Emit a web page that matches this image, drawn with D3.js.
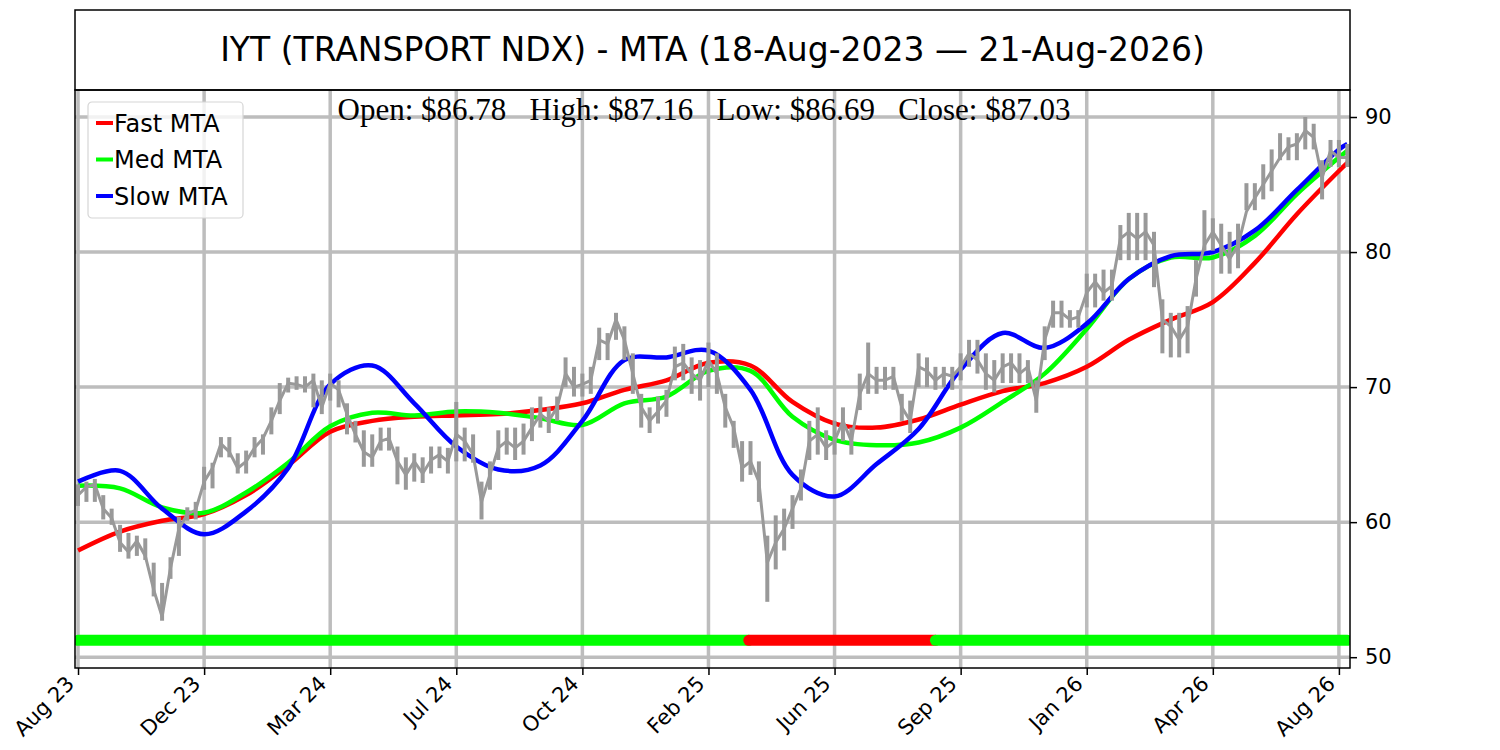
<!DOCTYPE html>
<html>
<head>
<meta charset="utf-8">
<script src="https://cdn.jsdelivr.net/npm/d3@7"></script>
<style>
  body { margin: 0; background: #fff; }
  svg { display: block; }
  .tick text { font-family: "DejaVu Sans", sans-serif; }
</style>
</head>
<body>
<div id="chart"></div>
<script>
// chart data (bar index based x axis, one bar per trading day)
const titleText = 'IYT (TRANSPORT NDX) - MTA (18-Aug-2023 \u2014 21-Aug-2026)';
const ohlcText = 'Open: $86.78   High: $87.16   Low: $86.69   Close: $87.03';

const tickIndex = [0, 75, 150, 225, 300, 375, 450, 525, 600, 675, 750];
const tickLabels = ['Aug 23', 'Dec 23', 'Mar 24', 'Jul 24', 'Oct 24', 'Feb 25',
                    'Jun 25', 'Sep 25', 'Jan 26', 'Apr 26', 'Aug 26'];
const yTicks = [50, 60, 70, 80, 90];

// price sampled every 5 bars: close, low, high
const priceIndex = d3.range(0, 756, 5);
const priceClose = [
  62.0, 62.6, 62.8, 61.0, 60.3, 58.5, 57.8, 58.6, 57.5, 55.0,
  53.0, 56.6, 59.5, 60.6, 60.9, 63.0, 64.0, 65.8, 65.2, 64.0,
  64.5, 65.5, 66.2, 67.5, 69.0, 70.3, 70.2, 70.0, 70.5, 68.5,
  70.3, 69.8, 68.0, 66.5, 65.2, 64.8, 66.0, 66.2, 64.5, 63.5,
  64.5, 63.6, 64.6, 65.0, 64.5, 66.5, 66.0, 65.0, 61.5, 63.5,
  65.5, 66.0, 65.5, 66.0, 67.0, 68.0, 67.5, 68.5, 71.0, 70.0,
  70.2, 70.5, 73.5, 73.2, 75.0, 73.5, 71.0, 68.5, 67.5, 68.2,
  69.0, 71.5, 71.8, 71.0, 70.5, 72.0, 71.0, 68.5, 67.0, 64.0,
  64.5, 63.0, 57.0, 58.5, 59.5, 61.0, 62.5, 66.0, 66.5, 65.5,
  66.0, 67.5, 66.0, 69.5, 71.0, 70.5, 70.5, 70.8, 68.5, 67.5,
  71.5, 71.2, 70.5, 71.0, 70.8, 71.5, 72.5, 72.0, 71.0, 70.5,
  71.5, 71.8, 71.0, 71.5, 69.0, 73.5, 75.5, 75.5, 75.0, 75.2,
  77.0, 77.8, 77.0, 77.5, 81.0, 81.5, 81.0, 81.5, 80.5, 75.0,
  74.5, 73.5, 74.5, 78.0, 80.5, 81.5, 80.5, 79.5, 80.5, 83.0,
  84.0, 85.0, 86.0, 87.0, 87.8, 88.0, 89.0, 88.5, 85.5, 87.5,
  87.0, 87.0
];
const priceLow = [
  61.2, 61.5, 61.5, 60.2, 59.8, 57.8, 57.3, 57.5, 57.2, 54.5,
  52.7, 55.8, 57.5, 60.1, 60.2, 62.4, 62.5, 64.8, 64.8, 63.6,
  63.6, 64.8, 65.0, 66.5, 68.0, 69.6, 69.8, 69.6, 68.5, 68.0,
  69.0, 68.5, 66.5, 65.9, 64.1, 64.1, 65.3, 65.3, 62.8, 62.4,
  63.0, 62.9, 63.6, 64.0, 63.6, 64.5, 64.5, 64.4, 60.2, 62.4,
  64.6, 65.0, 64.6, 65.0, 66.0, 67.0, 66.6, 67.5, 70.0, 69.3,
  69.3, 69.5, 72.0, 72.0, 73.5, 72.0, 69.5, 67.0, 66.6, 67.3,
  67.8, 70.5, 70.5, 69.5, 69.0, 70.0, 69.5, 67.0, 65.5, 63.0,
  63.5, 61.5, 54.1, 56.5, 57.9, 59.5, 61.6, 64.6, 65.0, 64.6,
  65.0, 66.0, 65.0, 68.3, 69.5, 69.5, 69.8, 69.8, 67.5, 66.6,
  70.0, 70.0, 69.8, 70.0, 69.8, 70.5, 71.5, 71.0, 69.8, 69.6,
  70.3, 70.3, 70.3, 70.3, 68.1, 72.0, 74.4, 74.4, 74.4, 74.4,
  75.9, 75.9, 76.4, 76.4, 79.4, 79.4, 79.4, 79.4, 77.4, 72.5,
  72.2, 72.2, 72.5, 76.7, 80.1, 80.1, 78.4, 78.4, 78.8, 83.1,
  83.1, 83.9, 84.5, 86.8, 86.8, 86.8, 87.6, 87.6, 83.9, 86.3,
  86.3, 86.3
];
const priceHigh = [
  62.8, 63.0, 63.2, 62.0, 61.0, 59.8, 59.2, 59.0, 58.8, 57.0,
  55.5, 57.4, 60.4, 61.1, 61.5, 64.1, 64.4, 66.3, 66.3, 65.1,
  65.3, 66.3, 66.5, 68.5, 70.3, 70.7, 70.8, 70.8, 71.0, 70.5,
  71.0, 70.5, 68.8, 67.5, 66.8, 66.5, 67.0, 67.0, 65.6, 64.8,
  65.1, 64.8, 65.6, 65.6, 65.5, 68.9, 67.0, 66.5, 63.0, 64.5,
  66.8, 67.0, 67.0, 67.3, 68.5, 69.3, 68.5, 69.3, 72.2, 71.5,
  71.0, 71.5, 74.4, 74.0, 75.5, 74.5, 72.5, 69.5, 68.5, 69.3,
  69.8, 73.0, 73.2, 72.2, 72.0, 73.3, 72.5, 69.5, 67.5, 66.0,
  66.0, 64.5, 59.0, 60.5, 61.0, 62.0, 63.9, 67.5, 68.5, 66.8,
  67.5, 68.5, 67.0, 71.0, 73.3, 71.5, 71.5, 71.5, 69.5, 69.0,
  72.5, 72.2, 71.5, 71.5, 71.5, 72.5, 73.5, 73.5, 72.5, 72.0,
  72.5, 72.5, 72.5, 72.0, 70.5, 74.5, 76.4, 76.4, 75.7, 75.7,
  78.4, 78.4, 78.7, 78.7, 82.0, 82.9, 82.9, 82.9, 81.5, 76.5,
  75.5, 75.5, 76.0, 79.4, 83.1, 82.5, 82.1, 81.5, 82.1, 85.1,
  85.1, 86.5, 87.6, 88.8, 88.5, 88.8, 90.0, 89.5, 86.8, 88.3,
  88.3, 88.0
];

// moving trend averages, sampled every 25 bars (last one at bar 755)
const mtaIndex = d3.range(0, 751, 25).concat([755]);
const fastMTA = [
  57.9, 59.3, 60.1, 60.6, 62.0, 64.2, 66.7, 67.5, 67.8, 67.9, 68.0,
  68.3, 68.8, 69.8, 70.5, 71.8, 71.6, 68.9, 67.3, 67.0, 67.6, 68.7,
  69.7, 70.3, 71.5, 73.5, 75.0, 76.3, 79.2, 82.8, 86.0, 86.6
];
const medMTA = [
  62.7, 62.5, 61.1, 60.7, 62.2, 64.4, 67.1, 68.1, 67.9, 68.2, 68.1,
  67.7, 67.2, 68.8, 69.3, 71.2, 71.2, 67.8, 66.1, 65.7, 65.9, 67.0,
  68.9, 71.0, 74.3, 78.0, 79.6, 79.6, 81.2, 84.3, 87.0, 87.5
];
const slowMTA = [
  63.0, 63.8, 61.0, 59.1, 60.8, 64.0, 70.2, 71.6, 68.8, 65.6, 63.9,
  64.2, 67.5, 72.0, 72.2, 72.7, 69.8, 63.5, 61.9, 64.3, 66.9, 71.3,
  74.0, 72.9, 74.7, 78.0, 79.7, 80.0, 81.6, 84.6, 87.6, 88.0
];

// trend signal strip along the bottom
const signalStart = [0, 399, 510];
const signalEnd = [399, 510, 755];
const signalState = ['up', 'down', 'up'];
const signalLevel = 51.25;

// sizes
const W = 1500, H = 750;
const margin = { left: 75, right: 1350, top: 90, bottom: 668 };

const svg = d3.select('#chart').append('svg')
  .attr('width', W).attr('height', H);

const x = d3.scaleLinear().domain([-1.8, 756.6]).range([margin.left, margin.right]);
const y = d3.scaleLinear().domain([49.2, 92.0]).range([margin.bottom, margin.top]);

svg.append('clipPath').attr('id', 'plotclip')
  .append('rect')
  .attr('x', margin.left).attr('y', margin.top)
  .attr('width', margin.right - margin.left).attr('height', margin.bottom - margin.top);

// grid
let grid = svg.append('g').attr('clip-path', 'url(#plotclip)');
grid.selectAll('.vgrid').data(tickIndex).enter().append('line')
  .attr('x1', d => x(d)).attr('x2', d => x(d))
  .attr('y1', margin.top).attr('y2', margin.bottom)
  .attr('stroke', '#bdbdbd').attr('stroke-width', 3.5);
grid.selectAll('.hgrid').data(yTicks).enter().append('line')
  .attr('x1', margin.left).attr('x2', margin.right)
  .attr('y1', d => y(d)).attr('y2', d => y(d))
  .attr('stroke', '#bdbdbd').attr('stroke-width', 3.5);

let plot = svg.append('g').attr('clip-path', 'url(#plotclip)');

// signal strip
let signalColor = { up: '#00ff00', down: '#ff0000' };
signalStart.forEach(function(s, k) {
  plot.append('line')
    .attr('x1', x(s)).attr('x2', x(signalEnd[k]))
    .attr('y1', y(signalLevel)).attr('y2', y(signalLevel))
    .attr('stroke', signalColor[signalState[k]])
    .attr('stroke-width', 11)
    .attr('stroke-linecap', 'round');
});

// MTA lines
let mtaLine = d3.line()
  .x((d, i) => x(mtaIndex[i]))
  .y(d => y(d))
  .curve(d3.curveCatmullRom.alpha(0.5));

let series = [
  { name: 'Fast MTA', values: fastMTA, color: '#ff0000' },
  { name: 'Med MTA', values: medMTA, color: '#00ff00' },
  { name: 'Slow MTA', values: slowMTA, color: '#0000ff' }
];

series.forEach(function(s) {
  plot.append('path')
    .attr('d', mtaLine(s.values))
    .attr('fill', 'none')
    .attr('stroke', s.color)
    .attr('stroke-width', 4.5)
    .attr('stroke-linejoin', 'round');
});

// price: low-high bars plus a close line
plot.selectAll('.hl').data(priceIndex).enter().append('line')
  .attr('class', 'hl')
  .attr('x1', d => x(d)).attr('x2', d => x(d))
  .attr('y1', (d, i) => y(priceLow[i]))
  .attr('y2', (d, i) => y(priceHigh[i]))
  .attr('stroke', '#999999')
  .attr('stroke-width', 4);

let priceLine = d3.line()
  .x((d, i) => x(priceIndex[i]))
  .y(d => y(d));

plot.append('path')
  .attr('d', priceLine(priceClose))
  .attr('fill', 'none')
  .attr('stroke', '#999999')
  .attr('stroke-width', 3);

// axes
let xAxis = d3.axisBottom(x)
  .tickValues(tickIndex)
  .tickFormat((d, i) => tickLabels[i])
  .tickSize(7).tickPadding(4);

let gx = svg.append('g')
  .attr('transform', 'translate(0,' + margin.bottom + ')')
  .call(xAxis);
gx.select('.domain').remove();
gx.selectAll('.tick line').attr('stroke', '#000').attr('stroke-width', 1.5);
gx.selectAll('.tick text')
  .attr('font-size', 21)
  .attr('fill', '#000')
  .attr('text-anchor', 'end')
  .attr('x', 0).attr('y', 0).attr('dy', 0)
  .attr('transform', 'translate(-3,17) rotate(-45)');

let yAxis = d3.axisRight(y)
  .tickValues(yTicks)
  .tickSize(7).tickPadding(8);

let gy = svg.append('g')
  .attr('transform', 'translate(' + margin.right + ',0)')
  .call(yAxis);
gy.select('.domain').remove();
gy.selectAll('.tick line').attr('stroke', '#000').attr('stroke-width', 1.5);
gy.selectAll('.tick text').attr('font-size', 21).attr('fill', '#000');

// frame
svg.append('rect')
  .attr('x', margin.left).attr('y', margin.top)
  .attr('width', margin.right - margin.left).attr('height', margin.bottom - margin.top)
  .attr('fill', 'none').attr('stroke', '#000').attr('stroke-width', 1.5);

// title box
svg.append('rect')
  .attr('x', margin.left).attr('y', 10)
  .attr('width', margin.right - margin.left).attr('height', margin.top - 10)
  .attr('fill', 'none').attr('stroke', '#000').attr('stroke-width', 1.5);

svg.append('text')
  .attr('x', (margin.left + margin.right) / 2).attr('y', 61)
  .attr('text-anchor', 'middle')
  .attr('font-family', '"DejaVu Sans", sans-serif')
  .attr('font-size', 33)
  .text(titleText);

svg.append('text')
  .attr('x', 704).attr('y', 120)
  .attr('text-anchor', 'middle')
  .attr('font-family', '"Liberation Serif", "Times New Roman", serif')
  .attr('font-size', 31)
  .style('white-space', 'pre')
  .text(ohlcText);

// legend
let legend = svg.append('g').attr('transform', 'translate(88,102)');
legend.append('rect')
  .attr('width', 155).attr('height', 116)
  .attr('rx', 4)
  .attr('fill', 'rgba(255,255,255,0.8)')
  .attr('stroke', '#d6d6d6').attr('stroke-width', 1.2);

series.forEach(function(s, i) {
  let row = legend.append('g').attr('transform', 'translate(0,' + (21 + i * 36.5) + ')');
  row.append('line')
    .attr('x1', 8).attr('x2', 25).attr('y1', 0).attr('y2', 0)
    .attr('stroke', s.color).attr('stroke-width', 4);
  row.append('text')
    .attr('x', 26).attr('y', 8.5)
    .attr('font-family', '"DejaVu Sans", sans-serif')
    .attr('font-size', 24)
    .text(s.name);
});
</script>
</body>
</html>
